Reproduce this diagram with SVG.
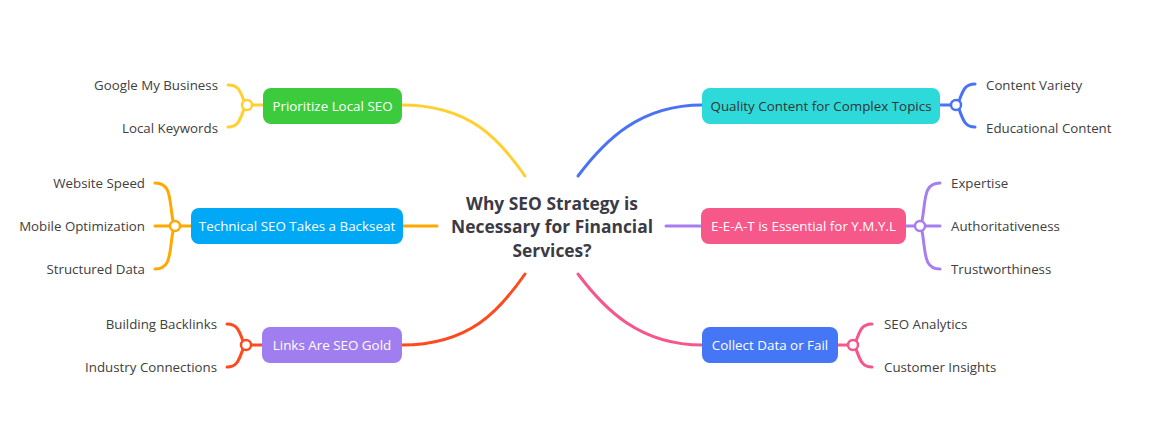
<svg xmlns="http://www.w3.org/2000/svg" width="1158" height="432" viewBox="0 0 1158 432">
<style>
.c{fill:none;stroke-width:3;stroke-linecap:round}
.dot{fill:#fff;stroke-width:2.5}
.t{font-family:"Open Sans","Noto Sans",sans-serif;font-size:13.4px;fill:#fff;text-anchor:middle;dominant-baseline:central}
.leaf{font-family:"Open Sans","Noto Sans",sans-serif;font-size:13.3px;fill:#404040;dominant-baseline:central}
.r{text-anchor:end}
.center{font-family:"Open Sans","Noto Sans",sans-serif;font-size:17.4px;font-weight:bold;fill:#3b3b45;text-anchor:middle;dominant-baseline:central}
</style>
<rect width="1158" height="432" fill="#fff"/>
<g id="connectors">
<path class="c" stroke="#FFD02F" d="M402,105 C470,105 500,140 525,176"/>
<path class="c" stroke="#4A72F5" d="M702,105 C640,105 605,140 578,176"/>
<path class="c" stroke="#FFA800" d="M403,226 L437,226"/>
<path class="c" stroke="#A77EF0" d="M666,226 L700,226"/>
<path class="c" stroke="#FF4A1F" d="M402,345 C470,345 500,310 525,274"/>
<path class="c" stroke="#F7568A" d="M702,345 C640,345 605,310 578,274"/>
<g stroke="#FFD02F">
<path class="c" d="M252,105 L263,105"/>
<path class="c" d="M244,101 C240,90 238,85 228,85"/>
<path class="c" d="M244,109 C240,120 238,127 228,127"/>
<circle class="dot" cx="247" cy="105" r="5"/>
</g>
<g stroke="#FFA800">
<path class="c" d="M180,226 L191,226"/>
<path class="c" d="M170,226 L155,226"/>
<path class="c" d="M173,221 C169,200 172,183 155,183"/>
<path class="c" d="M173,231 C169,252 172,269 155,269"/>
<circle class="dot" cx="175" cy="226" r="5"/>
</g>
<g stroke="#FF4A1F">
<path class="c" d="M251,345 L262,345"/>
<path class="c" d="M243,341 C239,330 237,324 227,324"/>
<path class="c" d="M243,349 C239,360 237,367 227,367"/>
<circle class="dot" cx="246" cy="345" r="5"/>
</g>
<g stroke="#4A72F5">
<path class="c" d="M940,105 L951,105"/>
<path class="c" d="M959,101 C963,90 965,84 975,84"/>
<path class="c" d="M959,109 C963,120 965,127 975,127"/>
<circle class="dot" cx="956" cy="105" r="5"/>
</g>
<g stroke="#A77EF0">
<path class="c" d="M906,226 L915,226"/>
<path class="c" d="M925,226 L940,226"/>
<path class="c" d="M922,221 C926,200 923,183 940,183"/>
<path class="c" d="M922,231 C926,252 923,269 940,269"/>
<circle class="dot" cx="920" cy="226" r="5"/>
</g>
<g stroke="#F7568A">
<path class="c" d="M838,345 L848,345"/>
<path class="c" d="M856,341 C860,330 862,324 872,324"/>
<path class="c" d="M856,349 C860,360 862,367 872,367"/>
<circle class="dot" cx="853" cy="345" r="5"/>
</g>
</g>
<g id="center">
<text class="center" x="552" y="203">Why SEO Strategy is</text>
<text class="center" x="552" y="226">Necessary for Financial</text>
<text class="center" x="552" y="250">Services?</text>
</g>
<g id="n-local">
<rect x="263" y="88" width="139" height="36" rx="8" fill="#3CCB3C"/>
<text class="t" x="332.5" y="106">Prioritize Local SEO</text>
</g>
<g id="l-gmb"><text class="leaf r" x="218" y="85">Google My Business</text></g>
<g id="l-lk"><text class="leaf r" x="218" y="128">Local Keywords</text></g>
<g id="n-tech">
<rect x="191" y="208" width="212" height="36" rx="8" fill="#00A8F5"/>
<text class="t" x="297" y="226">Technical SEO Takes a Backseat</text>
</g>
<g id="l-ws"><text class="leaf r" x="145" y="183">Website Speed</text></g>
<g id="l-mo"><text class="leaf r" x="145" y="226">Mobile Optimization</text></g>
<g id="l-sd"><text class="leaf r" x="145" y="269">Structured Data</text></g>
<g id="n-links">
<rect x="262" y="327" width="140" height="36" rx="8" fill="#A07EF0"/>
<text class="t" x="332" y="345">Links Are SEO Gold</text>
</g>
<g id="l-bb"><text class="leaf r" x="217" y="324">Building Backlinks</text></g>
<g id="l-ic"><text class="leaf r" x="217" y="367">Industry Connections</text></g>
<g id="n-quality">
<rect x="702" y="88" width="238" height="36" rx="8" fill="#2ED9D9"/>
<text class="t" x="821" y="106" style="fill:#333">Quality Content for Complex Topics</text>
</g>
<g id="l-cv"><text class="leaf" x="986" y="85">Content Variety</text></g>
<g id="l-ec"><text class="leaf" x="986" y="128">Educational Content</text></g>
<g id="n-eeat">
<rect x="701" y="208" width="205" height="36" rx="8" fill="#F7588A"/>
<text class="t" x="803.5" y="226">E-E-A-T is Essential for Y.M.Y.L</text>
</g>
<g id="l-ex"><text class="leaf" x="951" y="183">Expertise</text></g>
<g id="l-au"><text class="leaf" x="951" y="226">Authoritativeness</text></g>
<g id="l-tr"><text class="leaf" x="951" y="269">Trustworthiness</text></g>
<g id="n-collect">
<rect x="702" y="327" width="136" height="36" rx="8" fill="#4476F5"/>
<text class="t" x="770" y="345">Collect Data or Fail</text>
</g>
<g id="l-sa"><text class="leaf" x="884" y="324">SEO Analytics</text></g>
<g id="l-ci"><text class="leaf" x="884" y="367">Customer Insights</text></g>
</svg>
